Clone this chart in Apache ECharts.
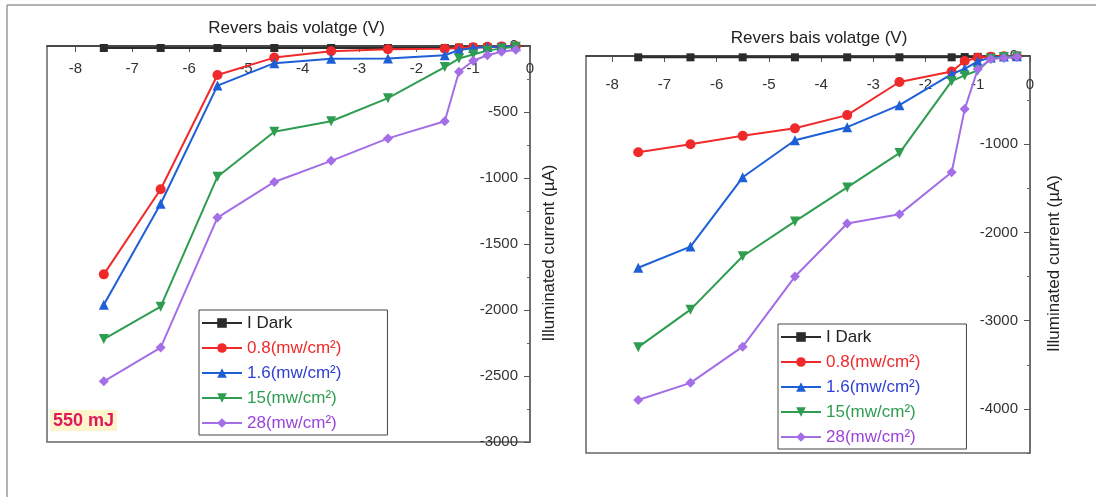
<!DOCTYPE html>
<html>
<head>
<meta charset="utf-8">
<script src="https://cdn.jsdelivr.net/npm/echarts@6/dist/echarts.min.js"></script>
<style>
html,body{margin:0;padding:0;background:#fff;}
#chart{width:1096px;height:497px;}
</style>
</head>
<body>
<div id="chart"></div>
<script>
// ---- data ----
const voltage = [-7.5, -6.5, -5.5, -4.5, -3.5, -2.5, -1.5, -1.25, -1, -0.75, -0.5, -0.25];
const seriesNames = ['I Dark', '0.8(mw/cm²)', '1.6(mw/cm²)', '15(mw/cm²)', '28(mw/cm²)'];
const xTickValues = [-8, -7, -6, -5, -4, -3, -2, -1, 0];
const xMinorTickValues = [-7.5, -6.5, -5.5, -4.5, -3.5, -2.5, -1.5, -0.5];
const yTickValuesL = [-3000, -2500, -2000, -1500, -1000, -500, 0];
const yMinorTickValuesL = [-2750, -2250, -1750, -1250, -750, -250];
const yTickValuesR = [-4000, -3000, -2000, -1000, 0];
const yMinorTickValuesR = [-4500, -3500, -2500, -1500, -500];
const panelLabel = '550 mJ';
const xTitle = 'Revers bais volatge (V)';
const yTitle = 'Illuminated current (µA)';

// left panel
const darkL   = [-15, -15, -15, -15, -15, -15, -15, -12, -10, -8, -5, -3];
const redL    = [-1730, -1085, -220, -88, -40, -25, -20, -15, -10, -6, -3, -1];
const blueL   = [-1960, -1195, -300, -130, -97, -95, -70, -30, -15, -8, -4, -2];
const greenL  = [-2220, -1975, -990, -650, -570, -395, -160, -95, -65, -35, -18, -5];
const purpleL = [-2540, -2285, -1300, -1030, -870, -700, -570, -195, -112, -70, -43, -28];

// right panel
const darkR   = [-15, -15, -15, -15, -15, -15, -15, -12, -10, -8, -5, -3];
const redR    = [-1090, -1000, -905, -820, -670, -295, -175, -57, -20, -8, -4, -2];
const blueR   = [-2400, -2160, -1375, -955, -807, -557, -205, -145, -60, -18, -6, -2];
const greenR  = [-3300, -2875, -2270, -1875, -1490, -1100, -285, -220, -165, -30, -10, -5];
const purpleR = [-3900, -3705, -3295, -2500, -1898, -1795, -1318, -602, -150, -34, -23, -11];

const colors = ['#2b2b2b', '#f02a2a', '#1d5fd6', '#2e9d50', '#a36ee6'];
const textColors = ['#222222', '#ee2a2a', '#2f3fd2', '#2e9d50', '#9b45d8'];
const symbols = ['rect', 'circle', 'triangle', 'triangle', 'diamond'];
const rotates = [0, 0, 0, 180, 0];

const leftData = [darkL, redL, blueL, greenL, purpleL];
const rightData = [darkR, redR, blueR, greenR, purpleR];

function pairs(arr) { return voltage.map((v, i) => [v, arr[i]]); }

function makeSeries(dataSets, gi) {
  return dataSets.map((d, k) => ({
    name: seriesNames[k],
    type: 'line',
    xAxisIndex: gi * 2,
    yAxisIndex: gi,
    data: pairs(d),
    symbol: symbols[k],
    symbolRotate: rotates[k],
    symbolSize: k === 0 ? 8 : 10,
    clip: false,
    lineStyle: { color: colors[k], width: 2 },
    itemStyle: { color: colors[k] },
    z: 2 + k
  }));
}

const fontFam = 'Liberation Sans, Arial, sans-serif';
const plainNum = v => String(v);

function xAxisPair(gi, labelMargin, namePad) {
  return [{
    gridIndex: gi, type: 'value', position: 'top', min: -8.5, max: 0,
    axisLine: { show: true, onZero: false, lineStyle: { color: '#333', width: 1.5 } },
    axisTick: { show: true, inside: true, length: 6, customValues: xTickValues, lineStyle: { color: '#555' } },
    axisLabel: { inside: true, margin: labelMargin, customValues: xTickValues, formatter: plainNum, fontSize: 15, color: '#333', fontFamily: fontFam },
    splitLine: { show: false },
    name: xTitle, nameLocation: 'middle', nameGap: 9,
    nameTextStyle: { fontSize: 17, color: '#222', fontFamily: fontFam, padding: namePad }
  }, {
    gridIndex: gi, type: 'value', position: 'top', min: -8.5, max: 0,
    axisLine: { show: false },
    axisTick: { show: true, inside: true, length: 3, customValues: xMinorTickValues, lineStyle: { color: '#555' } },
    axisLabel: { show: false },
    splitLine: { show: false }
  }];
}

function yAxisOf(gi, minV, ticks, nameGap) {
  return {
    gridIndex: gi, type: 'value', position: 'right', min: minV, max: 0,
    axisLine: { show: true, onZero: false, lineStyle: { color: '#666', width: 1.5 } },
    axisTick: { show: true, inside: true, length: 6, customValues: ticks, lineStyle: { color: '#555' } },
    axisLabel: { inside: true, margin: 12, customValues: ticks, formatter: plainNum, fontSize: 15, color: '#333', fontFamily: fontFam },
    splitLine: { show: false },
    name: yTitle, nameLocation: 'middle', nameGap: nameGap, nameRotate: 90,
    nameTextStyle: { fontSize: 17, color: '#222', fontFamily: fontFam, padding: [0, 18, 0, 0] }
  };
}

function yMinorAxisOf(gi, minV, ticks) {
  return {
    gridIndex: gi, type: 'value', position: 'right', min: minV, max: 0,
    axisLine: { show: false },
    axisTick: { show: true, inside: true, length: 3, customValues: ticks, lineStyle: { color: '#666' } },
    axisLabel: { show: false },
    splitLine: { show: false }
  };
}

function legendOf(left, top) {
  return {
    left: left, top: top, orient: 'vertical',
    data: seriesNames.map((n, k) => ({ name: n, textStyle: { color: textColors[k] } })),
    itemWidth: 40, itemHeight: 12, itemGap: 7,
    textStyle: { fontSize: 17, lineHeight: 18, fontFamily: fontFam },
    borderColor: '#444', borderWidth: 1, backgroundColor: '#fff',
    padding: [4, 46, 3, 2],
    selectedMode: false
  };
}

const chart = echarts.init(document.getElementById('chart'), null, { renderer: 'canvas' });
chart.setOption({
  backgroundColor: '#fff',
  animation: false,
  grid: [
    { left: 47, top: 46, width: 483, height: 396, show: true, borderColor: '#666', borderWidth: 1.5, backgroundColor: 'transparent' },
    { left: 586, top: 56, width: 444, height: 397, show: true, borderColor: '#666', borderWidth: 1.5, backgroundColor: 'transparent' }
  ],
  xAxis: [].concat(xAxisPair(0, 15, [0, 0, 0, 16]), xAxisPair(1, 21, [0, 0, 0, 22])),
  yAxis: [
    yAxisOf(0, -3000, yTickValuesL, 11),
    yAxisOf(1, -4500, yTickValuesR, 16),
    yMinorAxisOf(0, -3000, yMinorTickValuesL),
    yMinorAxisOf(1, -4500, yMinorTickValuesR)
  ],
  legend: [legendOf(199, 310), legendOf(778, 324)],
  series: [].concat(makeSeries(leftData, 0), makeSeries(rightData, 1)),
  graphic: [
    { type: 'line', shape: { x1: 7, y1: 5, x2: 1096, y2: 5 }, style: { stroke: '#9a9a9a', lineWidth: 1.5 }, silent: true },
    { type: 'line', shape: { x1: 7, y1: 5, x2: 7, y2: 497 }, style: { stroke: '#9a9a9a', lineWidth: 1.5 }, silent: true },
    { type: 'text', left: 50, top: 410, silent: true,
      style: { text: panelLabel, fontSize: 18, fontWeight: 'bold', fill: '#e0195a', fontFamily: fontFam,
               backgroundColor: '#fdf6cc', padding: [2, 3, 1, 3] } }
  ]
});
</script>
</body>
</html>
